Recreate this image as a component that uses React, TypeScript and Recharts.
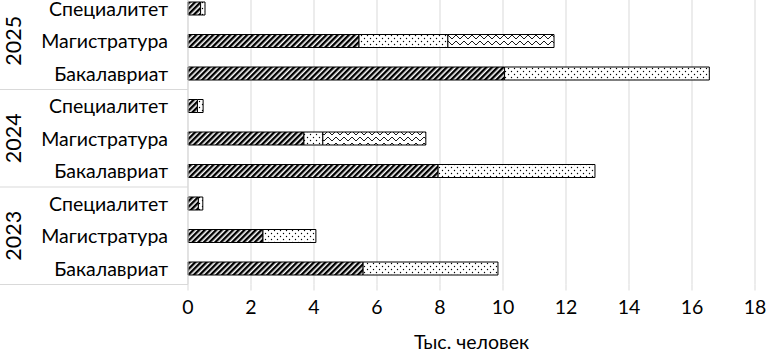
import { BarChart, Bar, XAxis, YAxis, CartesianGrid } from "recharts"

const years = ["2025", "2024", "2023"]
const programs = ["Специалитет", "Магистратура", "Бакалавриат"]
const hatched = [0.4, 5.43, 10.05, 0.3, 3.68, 7.94, 0.33, 2.38, 5.56]
const dotted = [0.14, 2.82, 6.5, 0.18, 0.6, 4.98, 0.14, 1.68, 4.28]
const wavy = [0, 3.37, 0, 0, 3.27, 0, 0, 0, 0]
const xTicks = [0, 2, 4, 6, 8, 10, 12, 14, 16, 18]

const data = years.flatMap((year, g) =>
    programs.map((program, p) => {
        const i = g * 3 + p
        return { key: `${year}-${program}`, year, program, pos: p, hatched: hatched[i], dotted: dotted[i], wavy: wavy[i] }
    })
)

const FONT = "Lato, 'Noto Sans', sans-serif"
const ROW = 292.5 / 9

const CategoryTick = ({ y, payload }: any) => {
    const row = data.find((d) => d.key === payload.value)
    if (!row) return null
    return (
        <g>
            <text x={168} y={y} textAnchor="end" dominantBaseline="central" fontSize={19.5} fill="#000" fontFamily={FONT}>
                {row.program}
            </text>
            {row.pos === 1 && (
                <text
                    x={13}
                    y={y}
                    transform={`rotate(-90 13 ${y})`}
                    textAnchor="middle"
                    dominantBaseline="central"
                    fontSize={21.5}
                    fill="#000"
                    fontFamily={FONT}
                >
                    {row.year}
                </text>
            )}
            {row.pos === 2 && <line x1={0} x2={188} y1={y + ROW / 2} y2={y + ROW / 2} stroke="#d9d9d9" />}
        </g>
    )
}

export default function App() {
    return (
        <div style={{ position: "absolute", left: 0, top: 0, width: 766, height: 352, overflow: "hidden", background: "#fff" }}>
            <svg width={0} height={0} style={{ position: "absolute" }}>
                <defs>
                    <pattern id="hatch" patternUnits="userSpaceOnUse" width={4} height={4} patternTransform="rotate(45)">
                        <rect width={4} height={4} fill="#fff" />
                        <rect width={2.4} height={4} fill="#000" />
                    </pattern>
                    <pattern id="dots" patternUnits="userSpaceOnUse" width={6} height={6}>
                        <rect width={6} height={6} fill="#fff" />
                        <circle cx={1.5} cy={1.5} r={0.7} fill="#000" />
                        <circle cx={4.5} cy={4.5} r={0.7} fill="#000" />
                    </pattern>
                    <pattern id="zigzag" patternUnits="userSpaceOnUse" width={8} height={6}>
                        <rect width={8} height={6} fill="#fff" />
                        <path d="M0,1 L4,5 L8,1" fill="none" stroke="#000" strokeWidth={0.9} />
                    </pattern>
                </defs>
            </svg>
            <div style={{ position: "absolute", left: 0, top: -8 }}>
                <BarChart
                    width={766}
                    height={360}
                    data={data}
                    layout="vertical"
                    barSize={13}
                    margin={{ top: 0, right: 11, bottom: 0, left: 0 }}
                >
                    <CartesianGrid horizontal={false} stroke="#d9d9d9" />
                    <XAxis
                        type="number"
                        domain={[0, 18]}
                        ticks={xTicks}
                        axisLine={false}
                        tickLine={{ stroke: "#d9d9d9" }}
                        tickSize={6}
                        tickMargin={10}
                        height={67.5}
                        tick={{ fontSize: 19.5, fill: "#000", fontFamily: FONT }}
                        label={{ value: "Тыс. человек", position: "insideBottom", offset: 3, fontSize: 19.5, fill: "#000", fontFamily: FONT }}
                    />
                    <YAxis
                        type="category"
                        dataKey="key"
                        width={188}
                        axisLine={{ stroke: "#d9d9d9" }}
                        tickLine={false}
                        tick={<CategoryTick />}
                        interval={0}
                    />
                    <Bar dataKey="hatched" stackId="a" fill="url(#hatch)" stroke="#000" strokeWidth={1} isAnimationActive={false} />
                    <Bar dataKey="dotted" stackId="a" fill="url(#dots)" stroke="#000" strokeWidth={1} isAnimationActive={false} />
                    <Bar dataKey="wavy" stackId="a" fill="url(#zigzag)" stroke="#000" strokeWidth={1} isAnimationActive={false} />
                </BarChart>
            </div>
        </div>
    )
}
